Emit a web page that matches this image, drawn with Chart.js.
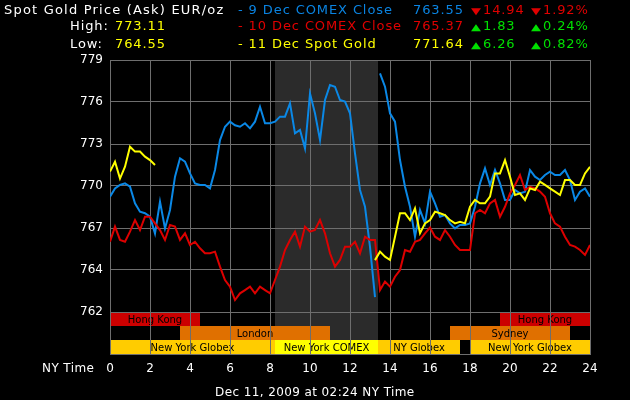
<!DOCTYPE html>
<html>
<head>
<meta charset="utf-8">
<script src="https://cdn.jsdelivr.net/npm/chart.js@4.4.0/dist/chart.umd.min.js"></script>
<style>
body { margin:0; background:#000; }
#wrap { position:relative; width:630px; height:400px; background:#000; overflow:hidden; font-family:"DejaVu Sans", sans-serif; }
#wrap canvas { position:absolute; left:0; top:0; }
.t { position:absolute; white-space:nowrap; font-size:13px; line-height:13px; letter-spacing:0.9px; }
.tri { position:absolute; white-space:nowrap; font-size:13px; line-height:13px; transform:scale(1, 0.7); transform-origin:left center; }
.s { position:absolute; white-space:nowrap; font-size:12px; line-height:12px; letter-spacing:0.4px; color:#fff; }
.w { color:#fff; } .b { color:#0a84e2; } .r { color:#e00000; } .y { color:#ffff00; } .g { color:#00e000; }
</style>
</head>
<body>
<div id="wrap">
<canvas id="goldChart" width="630" height="400"></canvas>

<div class="t w" style="left:4px;top:3px;letter-spacing:1.2px">Spot Gold Price (Ask) EUR/oz</div>
<div class="t b" style="left:238px;top:3px">- 9 Dec COMEX Close</div>
<div class="t b" style="left:413px;top:3px">763.55</div>
<div class="tri r" style="left:471px;top:4px">▼</div>
<div class="t r" style="left:483px;top:3px">14.94</div>
<div class="tri r" style="left:531px;top:4px">▼</div>
<div class="t r" style="left:543px;top:3px">1.92%</div>

<div class="t w" style="left:70px;top:19px">High:</div>
<div class="t y" style="left:115px;top:19px">773.11</div>
<div class="t r" style="left:238px;top:19px">- 10 Dec COMEX Close</div>
<div class="t r" style="left:413px;top:19px">765.37</div>
<div class="tri g" style="left:471px;top:20px">▲</div>
<div class="t g" style="left:483px;top:19px">1.83</div>
<div class="tri g" style="left:531px;top:20px">▲</div>
<div class="t g" style="left:543px;top:19px">0.24%</div>

<div class="t w" style="left:70px;top:37px">Low:</div>
<div class="t y" style="left:115px;top:37px">764.55</div>
<div class="t y" style="left:238px;top:37px">- 11 Dec Spot Gold</div>
<div class="t y" style="left:413px;top:37px">771.64</div>
<div class="tri g" style="left:471px;top:38px">▲</div>
<div class="t g" style="left:483px;top:37px">6.26</div>
<div class="tri g" style="left:531px;top:38px">▲</div>
<div class="t g" style="left:543px;top:37px">0.82%</div>

<div class="s" style="left:42px;top:362px">NY Time</div>
<div class="s" style="left:215px;top:386px">Dec 11, 2009 at 02:24 NY Time</div>
</div>

<script>
// hours of the NY trading day, one reading every 15 minutes
var hours = [];
for (var i = 0; i <= 96; i++) hours.push(i / 4);

var dec9Comex = [
 769.78,770.34,770.57,770.68,770.45,769.33,768.77,768.66,768.43,767.30,
 769.44,767.64,768.88,771.13,772.37,772.14,771.35,770.68,770.57,770.57,
 770.34,771.58,773.60,774.50,774.84,774.60,774.50,774.73,774.39,774.84,
 775.85,774.73,774.73,774.84,775.18,775.18,776.08,774.05,774.28,773.04,
 776.75,775.40,773.60,776.30,777.31,777.20,776.30,776.19,775.40,772.70,
 770.23,769.10,766.40,763.00,778.10,777.20,775.40,774.84,772.25,770.45,
 769.10,767.08,768.88,767.98,770.12,769.33,768.43,768.54,767.98,767.64,
 767.87,767.87,767.98,769.10,770.68,771.69,770.57,771.58,770.68,769.56,
 769.56,770.23,770.00,770.12,771.58,771.13,770.90,771.24,771.47,771.24,
 771.24,771.58,770.90,769.56,770.12,770.34,769.78
];

var dec10Comex = [
 766.74,767.76,766.86,766.74,767.42,768.20,767.53,768.43,768.43,767.98,
 767.53,766.86,767.87,767.76,766.86,767.31,766.52,766.74,766.30,765.96,
 765.96,766.07,765.06,764.16,763.71,762.81,763.26,763.48,763.71,763.26,
 763.71,763.48,763.26,764.16,765.06,766.18,766.86,767.42,766.41,767.76,
 767.42,767.53,768.20,767.31,765.96,765.06,765.51,766.41,766.41,766.74,
 765.96,767.08,766.86,766.86,763.48,764.05,763.71,764.38,764.83,766.18,
 766.07,766.74,766.86,767.31,767.70,767.08,766.86,767.53,767.08,766.52,
 766.18,766.18,766.18,768.66,768.88,768.66,769.33,769.56,768.43,769.10,
 770.00,770.57,771.24,770.23,770.45,770.34,770.12,769.78,768.66,767.98,
 767.76,767.08,766.52,766.41,766.18,765.85,766.52
];

var dec11Spot = [
 771.47,772.14,771.00,771.80,773.15,772.82,772.82,772.48,772.25,771.92,
 null,null,null,null,null,null,null,null,null,null,
 null,null,null,null,null,null,null,null,null,null,
 null,null,null,null,null,null,null,null,null,null,
 null,null,null,null,null,null,null,null,null,null,
 null,null,null,765.50,766.07,765.73,765.51,767.08,768.66,768.66,
 768.20,768.99,767.31,767.98,768.20,768.77,768.66,768.54,768.20,767.98,
 768.09,767.98,769.10,769.56,769.33,769.33,769.78,771.35,771.35,772.25,
 771.13,769.89,770.00,769.56,770.34,770.23,770.79,770.57,770.34,770.12,
 769.89,770.90,770.90,770.57,770.57,771.35,771.80
];

// y grid: 7 equal steps, labels as printed on the chart
var yMin = 759.1667, yMax = 779;
var yTickLabels = ['', '762', '764', '767', '770', '773', '776', '779'];

// blue series breaks at the COMEX close
var comexBreakAfter = 13.25;
var comexShade = [8.25, 13.4];

// market sessions (hours)
var sessionNames = ['Hong Kong', 'Hong Kong', 'London', 'Sydney', 'New York Globex', 'New York COMEX', 'NY Globex', 'New York Globex'];
var sessionStart = [0, 19.5, 3.5, 17, 0, 8.25, 13.4, 18];
var sessionEnd   = [4.5, 24, 11, 23, 8.25, 13.4, 17.5, 24];

var sessionStyle = {
  'Hong Kong':       { row: 0, color: '#cc0000' },
  'London':          { row: 1, color: '#e07000' },
  'Sydney':          { row: 1, color: '#e07000' },
  'New York Globex': { row: 2, color: '#ffcc00' },
  'NY Globex':       { row: 2, color: '#ffcc00' },
  'New York COMEX':  { row: 2, color: '#ffff00' }
};

var BLUE = '#0a88e6', RED = '#dd0000', YELLOW = '#ffff00', GRID = '#6e6e6e';

function toPoints(vals) {
  return vals.map(function (v, i) { return { x: hours[i], y: v }; });
}

var sessionsPlugin = {
  id: 'sessions',
  beforeDraw: function (chart) {
    var ctx = chart.ctx, area = chart.chartArea;
    var x = chart.scales.x, y = chart.scales.y;
    ctx.save();
    var s0 = x.getPixelForValue(comexShade[0]), s1 = x.getPixelForValue(comexShade[1]);
    ctx.fillStyle = '#2b2b2b';
    ctx.fillRect(s0, area.top, s1 - s0, area.bottom - area.top);

    var bandTop = y.getPixelForValue(yMin + (yMax - yMin) / 7);
    var rowH = (area.bottom - bandTop) / 3;
    ctx.font = '10px "DejaVu Sans"';
    ctx.textAlign = 'center';
    ctx.textBaseline = 'middle';
    for (var i = 0; i < sessionNames.length; i++) {
      var st = sessionStyle[sessionNames[i]];
      var a = x.getPixelForValue(sessionStart[i]), b = x.getPixelForValue(sessionEnd[i]);
      var top = bandTop + st.row * rowH;
      ctx.fillStyle = st.color;
      ctx.fillRect(a, top, b - a, rowH);
      ctx.fillStyle = '#000';
      ctx.fillText(sessionNames[i], (a + b) / 2, top + rowH / 2 + 1);
    }
    ctx.restore();
  }
};

var ctx = document.getElementById('goldChart').getContext('2d');
var goldChart = new Chart(ctx, {
  type: 'line',
  data: {
    datasets: [
      {
        label: '11 Dec Spot Gold',
        data: toPoints(dec11Spot),
        borderColor: YELLOW,
        borderWidth: 2,
        order: 0
      },
      {
        label: '10 Dec COMEX Close',
        data: toPoints(dec10Comex),
        borderColor: RED,
        borderWidth: 2,
        order: 1
      },
      {
        label: '9 Dec COMEX Close',
        data: toPoints(dec9Comex),
        borderColor: BLUE,
        borderWidth: 2,
        order: 2,
        segment: {
          borderColor: function (c) { return c.p0.parsed.x === comexBreakAfter ? 'rgba(0,0,0,0)' : BLUE; }
        }
      }
    ]
  },
  options: {
    responsive: false,
    animation: false,
    devicePixelRatio: 1,
    layout: { padding: { top: 60, right: 40, left: 0, bottom: 0 } },
    elements: { point: { radius: 0 }, line: { tension: 0 } },
    spanGaps: false,
    plugins: { legend: { display: false }, tooltip: { enabled: false } },
    scales: {
      x: {
        type: 'linear',
        min: 0,
        max: 24,
        ticks: { stepSize: 2, color: '#fff', font: { family: 'DejaVu Sans', size: 12 }, padding: 8, maxRotation: 0 },
        grid: { color: GRID, drawTicks: false },
        border: { color: GRID },
        afterFit: function (s) { s.height = 46; }
      },
      y: {
        min: yMin,
        max: yMax,
        afterBuildTicks: function (axis) {
          var t = [];
          for (var i = 0; i < yTickLabels.length; i++) t.push({ value: yMin + i * (yMax - yMin) / 7 });
          axis.ticks = t;
        },
        ticks: {
          color: '#fff',
          font: { family: 'DejaVu Sans', size: 12 },
          padding: 7,
          callback: function (v, i) { return yTickLabels[i]; }
        },
        grid: { color: GRID, drawTicks: false },
        border: { color: GRID },
        afterFit: function (s) { s.width = 110; }
      }
    }
  },
  plugins: [sessionsPlugin]
});
</script>
</body>
</html>
